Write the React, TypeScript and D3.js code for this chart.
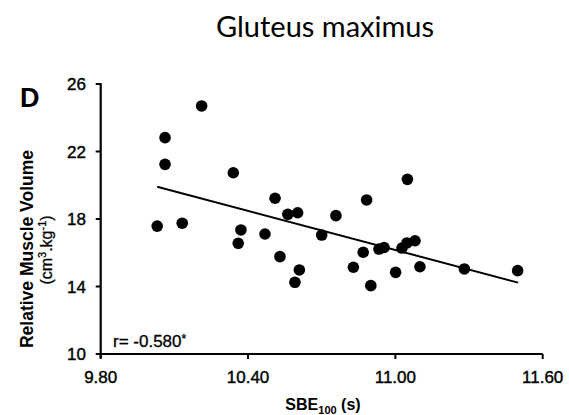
import React from "react";
import * as d3 from "d3";

const W = 569;
const H = 415;

const sbe: number[] = [
  10.03, 10.062, 10.062, 10.132, 10.211, 10.34, 10.36, 10.371, 10.469, 10.51,
  10.53, 10.562, 10.602, 10.609, 10.591, 10.7, 10.758, 10.829, 10.869, 10.883,
  10.9, 10.933, 10.954, 11.001, 11.027, 11.047, 11.049, 11.08, 11.1, 11.281, 11.498,
];
const volume: number[] = [
  17.58, 22.82, 21.24, 17.75, 24.7, 20.74, 16.56, 17.35, 17.11, 19.23,
  15.77, 18.28, 18.37, 14.98, 14.25, 17.05, 18.2, 15.14, 16.03, 19.13,
  14.05, 16.22, 16.31, 14.84, 16.28, 16.58, 20.35, 16.71, 15.17, 15.04, 14.94,
];
const fitX: number[] = [10.03, 11.5];
const fitY: number[] = [19.91, 14.23];
const xTicks: number[] = [9.8, 10.4, 11.0, 11.6];
const yTicks: number[] = [10, 14, 18, 22, 26];

const x = d3.scaleLinear().domain([9.8, 11.6]).range([100.7, 542.7]);
const y = d3.scaleLinear().domain([10, 26]).range([354, 84]);

const AX = "'Liberation Sans', Arial, sans-serif";

export default function App() {
  const line = d3
    .line<number>()
    .x((_, i) => x(fitX[i]))
    .y((_, i) => y(fitY[i]));
  const x0 = x(9.8);
  const y0 = y(10);
  return (
    <svg
      width={W}
      height={H}
      style={{ position: "fixed", left: 0, top: 0, background: "#fff" }}
    >
      <rect width={W} height={H} fill="#fff" />
      <text
        x={325}
        y={37}
        textAnchor="middle"
        fontFamily="Lato, 'Open Sans', sans-serif"
        fontSize={29}
        fill="#000"
      >
        Gluteus maximus
      </text>
      <text x={20} y={107} fontFamily={AX} fontWeight="bold" fontSize={27} fill="#000">
        D
      </text>
      {/* axes */}
      <line x1={x0} y1={y(26) - 1} x2={x0} y2={y0 + 4} stroke="#000" strokeWidth={2.2} />
      <line x1={x0 - 1} y1={y0} x2={x(11.6)} y2={y0} stroke="#000" strokeWidth={2.2} />
      {yTicks.map((t) => (
        <g key={"y" + t}>
          <line x1={x0 - 5} x2={x0} y1={y(t)} y2={y(t)} stroke="#000" strokeWidth={2} />
          <text
            x={86}
            y={y(t)}
            dy="0.36em"
            textAnchor="end"
            fontFamily={AX}
            fontSize={17}
            fill="#000"
            stroke="#000"
            strokeWidth={0.4}
          >
            {t}
          </text>
        </g>
      ))}
      {xTicks.map((t) => (
        <g key={"x" + t}>
          <line x1={x(t)} x2={x(t)} y1={y0} y2={y0 + 5} stroke="#000" strokeWidth={2} />
          <text
            x={x(t)}
            y={383}
            textAnchor="middle"
            fontFamily={AX}
            fontSize={17}
            fill="#000"
            stroke="#000"
            strokeWidth={0.4}
          >
            {t.toFixed(2)}
          </text>
        </g>
      ))}
      {/* axis titles */}
      <text
        x={323}
        y={410}
        textAnchor="middle"
        fontFamily={AX}
        fontWeight="bold"
        fontSize={16}
        fill="#000"
      >
        SBE
        <tspan fontSize={11} dy={4}>100</tspan>
        <tspan dy={-4}> (s)</tspan>
      </text>
      <text
        transform="translate(33,249) rotate(-90)"
        textAnchor="middle"
        fontFamily={AX}
        fontWeight="bold"
        fontSize={17.5}
        fill="#000"
      >
        Relative Muscle Volume
      </text>
      <text
        transform="translate(52,250) rotate(-90)"
        textAnchor="middle"
        fontFamily={AX}
        fontSize={16}
        fill="#000"
        stroke="#000"
        strokeWidth={0.3}
      >
        (cm
        <tspan fontSize={11} dy={-6}>3</tspan>
        <tspan dy={6}>.kg</tspan>
        <tspan fontSize={11} dy={-6}>-1</tspan>
        <tspan dy={6}>)</tspan>
      </text>
      {/* regression line */}
      <path d={line(fitX) || ""} fill="none" stroke="#000" strokeWidth={2} />
      {/* points */}
      {sbe.map((v, i) => (
        <circle key={i} cx={x(v)} cy={y(volume[i])} r={5.8} fill="#000" />
      ))}
      <text x={113} y={347} fontFamily={AX} fontSize={17} fill="#000" stroke="#000" strokeWidth={0.3}>
        r= -0.580
        <tspan fontSize={12} dy={-4}>*</tspan>
      </text>
    </svg>
  );
}
